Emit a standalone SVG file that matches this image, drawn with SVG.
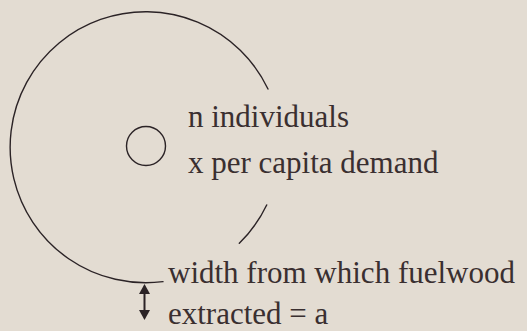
<svg xmlns="http://www.w3.org/2000/svg" width="527" height="331" viewBox="0 0 527 331">
  <style>
    .ln { fill: none; stroke: #2b2326; stroke-width: 1.4; stroke-linecap: round; }
    .tx { font-family: "Liberation Serif", "Times New Roman", serif; font-size: 31px; fill: #3a2f30; }
    .hd { fill: #2b2326; }
  </style>
  <rect width="527" height="331" fill="#e3dcd2"/>
  <g id="outer-area">
    <path class="ln" d="M268,89 A135.5,135.5 0 1 0 163,281.6"/>
    <path class="ln" d="M266.7,205 A135.5,135.5 0 0 1 239.3,243.3"/>
  </g>
  <g id="settlement">
    <circle class="ln" cx="146" cy="146" r="19.5"/>
  </g>
  <g id="labels">
    <text class="tx" x="188" y="127">n individuals</text>
    <text class="tx" x="188" y="173">x per capita demand</text>
    <text class="tx" x="168" y="283">width from which fuelwood</text>
    <text class="tx" x="168" y="324">extracted = a</text>
  </g>
  <g id="connectors">
    <line x1="144.5" y1="290" x2="144.5" y2="314" stroke="#2b2326" stroke-width="2"/>
    <polygon class="hd" points="144.5,284 150,294 139,294"/>
    <polygon class="hd" points="144.5,320 150,310 139,310"/>
  </g>
</svg>
